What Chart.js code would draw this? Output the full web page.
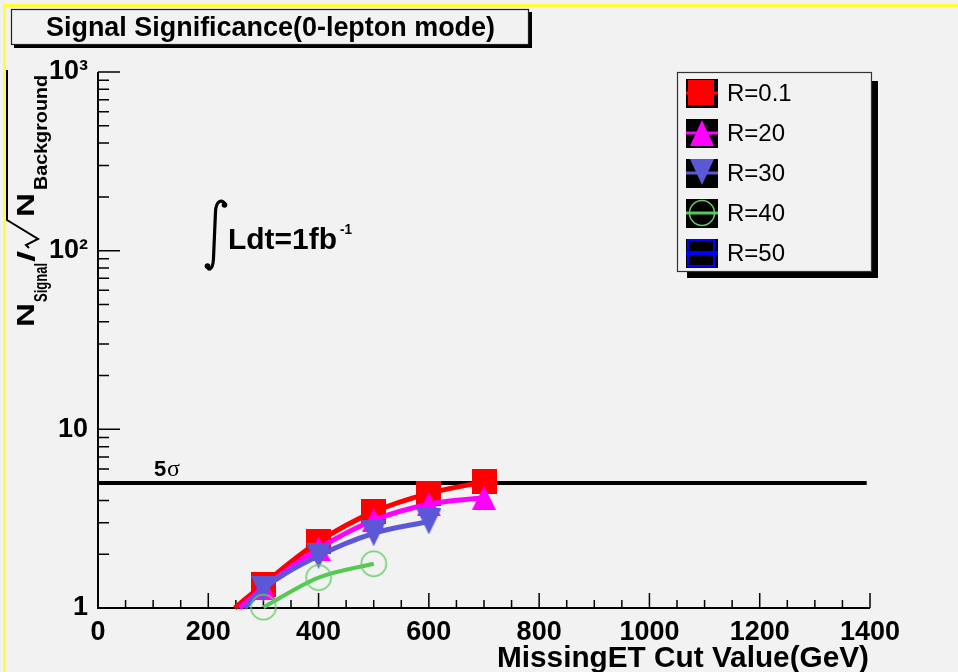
<!DOCTYPE html>
<html><head><meta charset="utf-8">
<script src="https://cdn.jsdelivr.net/npm/chart.js@4.4.0/dist/chart.umd.min.js"></script>
<style>html,body{margin:0;padding:0;background:#f2f2f2;overflow:hidden}canvas{display:block}</style>
</head><body>
<canvas id="c" width="958" height="672" style="width:958px;height:672px"></canvas>
<script>
// ---- data ----
const cutValues = [300, 400, 500, 600, 700];          // MissingET cut (GeV)
const sigR01 = [1.36, 2.35, 3.45, 4.38, 5.09];
const sigR20 = [1.30, 2.15, 3.10, 3.81, 4.14];
const cutR30 = [300, 400, 500, 600];
const sigR30 = [1.28, 1.96, 2.62, 3.05];
const cutR40 = [300, 400, 500];
const sigR40 = [1.01, 1.48, 1.77];
const sigR50 = [];
// where the fitted curves leave the bottom axis (R=0.1, R=20, R=30)
const curveStartCut = [248, 257, 266];
const curveStartSig = [1.0, 1.0, 1.0];
const fiveSigma = 5;
const legendLabels = ['R=0.1', 'R=20', 'R=30', 'R=40', 'R=50'];
const yTickLabels = {1: '1', 10: '10', 100: '10\u00B2', 1000: '10\u00B3'};
const xRange = [0, 1400];
const yRange = [1, 1000];
const xTickStep = 200;
const xMinorStep = 50;

const FAM = "'Liberation Sans', Arial, Helvetica, sans-serif";
const RED = '#ff0000', MAG = '#ff00ff', PUR = '#5b57d7', GRN = '#55c855', GRNC = '#66cc66', BLU = '#0000ff';

function mk(w, h, draw) { const c = document.createElement('canvas'); c.width = w; c.height = h; draw(c.getContext('2d')); return c; }
const mSquare = mk(25, 25, x => { x.fillStyle = RED; x.fillRect(0, 0, 25, 25); });
const mTriUp = mk(24, 24, x => { x.fillStyle = MAG; x.beginPath(); x.moveTo(12, 0); x.lineTo(24, 24); x.lineTo(0, 24); x.closePath(); x.fill(); });
const mTriDown = mk(25, 26, x => { x.fillStyle = PUR; x.beginPath(); x.moveTo(0, 0); x.lineTo(25, 0); x.lineTo(12.5, 26); x.closePath(); x.fill(); });
const mCircle = mk(28, 28, x => { x.strokeStyle = GRNC; x.lineWidth = 1.5; x.beginPath(); x.arc(14, 14, 12.5, 0, 2 * Math.PI); x.stroke(); });

const pts = (xs, ys) => xs.map((v, i) => ({x: v, y: ys[i]}));

function curve(data, color, width, order) {
  return {data, borderColor: color, borderWidth: width, pointRadius: 0, showLine: true,
    cubicInterpolationMode: 'monotone', fill: false, order, clip: false};
}
function markers(data, style, order) {
  return {data, showLine: false, pointStyle: style, pointRadius: 12, pointHoverRadius: 12, order, clip: false,
    borderColor: 'rgba(0,0,0,0)', backgroundColor: 'rgba(0,0,0,0)'};
}

const datasets = [
  {data: [{x: xRange[0], y: fiveSigma}, {x: xRange[1] - 6, y: fiveSigma}], borderColor: '#000', borderWidth: 4, pointRadius: 0, showLine: true, order: 20},
  curve([{x: curveStartCut[0], y: curveStartSig[0]}].concat(pts(cutValues, sigR01)), RED, 5, 19),
  markers(pts(cutValues, sigR01), mSquare, 18),
  curve([{x: curveStartCut[1], y: curveStartSig[1]}].concat(pts(cutValues, sigR20)), MAG, 5, 17),
  markers(pts(cutValues, sigR20), mTriUp, 16),
  curve([{x: curveStartCut[2], y: curveStartSig[2]}].concat(pts(cutR30, sigR30)), PUR, 5, 15),
  markers(pts(cutR30, sigR30), mTriDown, 14),
  curve(pts(cutR40, sigR40), GRN, 4, 13),
  markers(pts(cutR40, sigR40), mCircle, 12),
  {data: sigR50, borderColor: BLU, pointRadius: 0, order: 11}
];

function fitText(ctx, text, font, x, y, w) {
  ctx.font = font; const m = ctx.measureText(text).width;
  ctx.save(); ctx.translate(x, y); ctx.scale(w / m, 1); ctx.textAlign = 'left'; ctx.textBaseline = 'alphabetic';
  ctx.fillText(text, 0, 0); ctx.restore();
}
function rotText(ctx, text, font, xBase, yStart, yEnd) {
  ctx.font = font; const m = ctx.measureText(text).width;
  ctx.save(); ctx.translate(xBase, yStart); ctx.rotate(-Math.PI / 2); ctx.scale((yStart - yEnd) / m, 1);
  ctx.textAlign = 'left'; ctx.textBaseline = 'alphabetic'; ctx.fillText(text, 0, 0); ctx.restore();
}

const rootDecor = {
  id: 'rootDecor',
  beforeDraw(chart) {
    const c = chart.ctx;
    c.save();
    c.fillStyle = '#f2f2f2'; c.fillRect(0, 0, chart.width, chart.height);
    c.fillStyle = '#ffff33'; c.fillRect(3, 4, chart.width - 3, 3); c.fillRect(3, 4, 3, chart.height - 4);
    c.restore();
  },
  beforeDatasetsDraw(chart) {
    const c = chart.ctx, xs = chart.scales.x, ys = chart.scales.y;
    const L = xs.getPixelForValue(xRange[0]), R = xs.getPixelForValue(xRange[1]);
    const B = ys.getPixelForValue(yRange[0]), T = ys.getPixelForValue(yRange[1]);
    c.save();
    c.strokeStyle = '#000'; c.lineWidth = 2;
    c.beginPath(); c.moveTo(L, T); c.lineTo(L, B); c.lineTo(R, B); c.stroke();
    c.lineWidth = 1.5; c.beginPath();
    for (let v = xRange[0]; v <= xRange[1]; v += xMinorStep) {
      const p = xs.getPixelForValue(v), len = v % xTickStep === 0 ? 15 : 8;
      c.moveTo(p, B); c.lineTo(p, B - len);
    }
    for (let d = 1; d < yRange[1]; d *= 10) {
      for (let k = 1; k <= 9; k++) {
        const p = ys.getPixelForValue(k * d), len = k === 1 ? 22 : 11;
        c.moveTo(L, p); c.lineTo(L + len, p);
      }
    }
    const pt = ys.getPixelForValue(yRange[1]); c.moveTo(L, pt); c.lineTo(L + 22, pt);
    c.stroke();
    c.restore();
  },
  afterDraw(chart) {
    const c = chart.ctx;
    c.save();
    c.fillStyle = '#000';
    // title box
    c.fillRect(14, 12, 518, 36);
    c.fillStyle = '#f2f2f2'; c.fillRect(11, 9, 518, 36);
    c.strokeStyle = '#222'; c.lineWidth = 1.2; c.strokeRect(11.5, 9.5, 517, 35);
    c.fillStyle = '#000';
    fitText(c, 'Signal Significance(0-lepton mode)', 'bold 27px ' + FAM, 46, 36, 449);

    // legend
    c.fillStyle = '#000';
    c.fillRect(872, 81, 6, 197); c.fillRect(687, 272, 191, 6);
    c.fillStyle = '#f2f2f2'; c.fillRect(677, 72, 195, 200);
    c.strokeStyle = '#333'; c.lineWidth = 1.2; c.strokeRect(677.5, 72.5, 194, 199);
    legendLabels.forEach((lab, i) => {
      const cy = 93 + i * 40;
      c.fillStyle = '#000'; c.fillRect(686, cy - 14, 32, 29);
      const col = [RED, MAG, PUR, GRN, BLU][i];
      c.strokeStyle = col; c.lineWidth = i === 4 ? 4 : 3;
      c.beginPath(); c.moveTo(686, cy); c.lineTo(718, cy); c.stroke();
      if (i === 0) { c.fillStyle = RED; c.fillRect(688, cy - 13, 26, 25); }
      if (i === 1) { c.fillStyle = MAG; c.beginPath(); c.moveTo(702, cy - 13); c.lineTo(714, cy + 13); c.lineTo(690, cy + 13); c.closePath(); c.fill(); }
      if (i === 2) { c.fillStyle = PUR; c.beginPath(); c.moveTo(690, cy - 14); c.lineTo(714, cy - 14); c.lineTo(702, cy + 12); c.closePath(); c.fill(); }
      if (i === 3) { c.strokeStyle = GRNC; c.lineWidth = 1.5; c.beginPath(); c.arc(702, cy, 12.5, 0, 2 * Math.PI); c.stroke(); }
      if (i === 4) { c.strokeStyle = BLU; c.lineWidth = 2; c.strokeRect(688, cy - 13, 26, 26); }
      c.fillStyle = '#000'; c.font = '24px ' + FAM; c.textAlign = 'left'; c.textBaseline = 'middle';
      c.fillText(lab, 727, cy + 1);
    });

    // integral luminosity
    c.fillStyle = '#000';
    c.strokeStyle = '#000'; c.lineWidth = 3.2; c.lineCap = 'round';
    c.beginPath(); c.moveTo(225, 204);
    c.bezierCurveTo(222, 199, 216, 200, 215.5, 212);
    c.lineTo(213.5, 258);
    c.bezierCurveTo(213, 271, 208, 271, 207, 266);
    c.stroke();
    c.beginPath(); c.arc(224.5, 205, 2.8, 0, 2 * Math.PI); c.fill();
    c.beginPath(); c.arc(207.5, 266, 2.8, 0, 2 * Math.PI); c.fill();
    fitText(c, 'Ldt=1fb', 'bold 30px ' + FAM, 228, 249, 109);
    fitText(c, '-1', 'bold 15px ' + FAM, 340, 234, 12);

    // 5 sigma label
    c.font = 'bold 22px ' + FAM; c.textAlign = 'left'; c.textBaseline = 'alphabetic';
    c.fillText('5', 154, 476);
    c.font = '24px "Liberation Serif", serif'; c.fillText('\u03C3', 167, 476);

    // x title
    fitText(c, 'MissingET Cut Value(GeV)', 'bold 30px ' + FAM, 497, 667, 372);

    // y title  N_Signal / sqrt(N_Background)
    rotText(c, 'N', 'bold 23px ' + FAM, 34, 327, 303);
    rotText(c, 'Signal', 'bold 18px ' + FAM, 47, 302, 263);
    rotText(c, '/', 'bold 23px ' + FAM, 35, 262, 251);
    c.lineWidth = 2; c.lineCap = 'butt'; c.lineJoin = 'miter';
    c.beginPath(); c.moveTo(29, 248); c.lineTo(26, 245); c.lineTo(38, 239); c.lineTo(7, 220); c.lineTo(7, 70); c.stroke();
    rotText(c, 'N', 'bold 23px ' + FAM, 34, 217, 193);
    rotText(c, 'Background', 'bold 18px ' + FAM, 47, 190, 75);
    c.restore();
  }
};

new Chart(document.getElementById('c').getContext('2d'), {
  type: 'line',
  data: {datasets},
  options: {
    responsive: false, animation: false, devicePixelRatio: 1,
    layout: {padding: {left: 0, right: 88, top: 72, bottom: 0}},
    plugins: {legend: {display: false}, title: {display: false}, tooltip: {enabled: false}},
    scales: {
      x: {type: 'linear', min: xRange[0], max: xRange[1],
        ticks: {stepSize: xTickStep, color: '#000', padding: 8, maxRotation: 0, autoSkip: false,
          font: {family: FAM, size: 27, weight: 'bold'}, callback(v) { return String(v); }},
        grid: {display: false, drawTicks: false}, border: {display: false},
        afterFit(s) { s.height = 64; }},
      y: {type: 'logarithmic', min: yRange[0], max: yRange[1],
        ticks: {autoSkip: false, color: '#000', padding: 10, font: {family: FAM, size: 27, weight: 'bold'},
          callback(v) { const l = Math.log10(v); return Math.abs(l - Math.round(l)) < 1e-9 ? yTickLabels[Math.round(v)] : ''; }},
        grid: {display: false, drawTicks: false}, border: {display: false},
        afterFit(s) { s.width = 98; }}
    }
  },
  plugins: [rootDecor]
});
</script>
</body></html>
